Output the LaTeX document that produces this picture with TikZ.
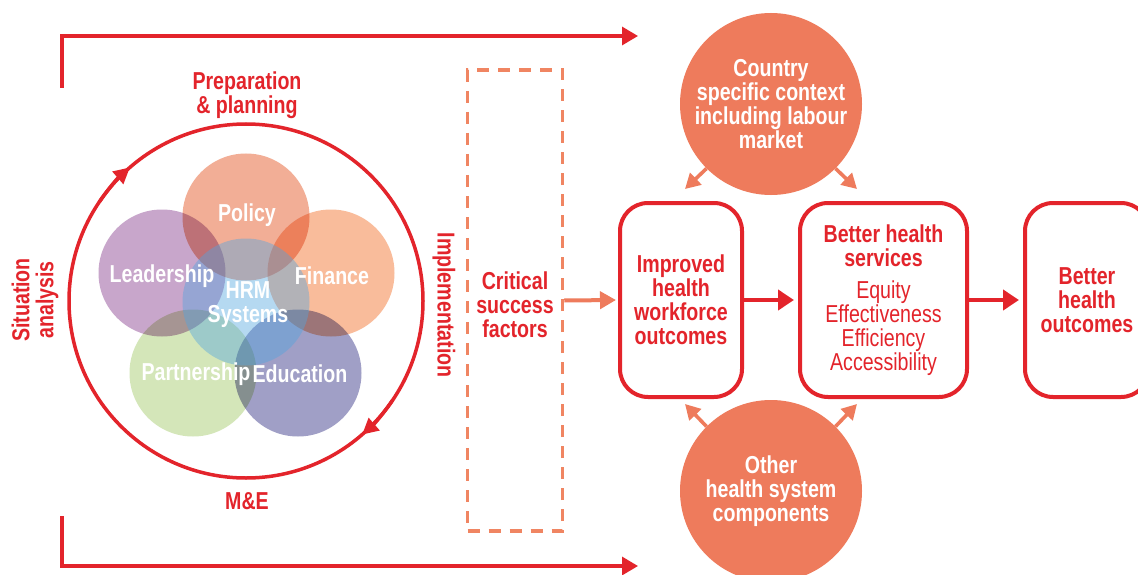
\documentclass[tikz,border=0pt]{standalone}
\usepackage{fontspec}
\setmainfont{Liberation Sans}[FakeStretch=0.8]
\usetikzlibrary{arrows.meta}
\definecolor{mainred}{HTML}{E3242B}
\definecolor{ctxorange}{HTML}{EE7B5C}
\definecolor{dashorange}{HTML}{F08562}
\definecolor{cpolicy}{HTML}{F2AE96}
\definecolor{clead}{HTML}{C8A6CB}
\definecolor{cfin}{HTML}{F9BC9B}
\definecolor{cpart}{HTML}{D4E6B9}
\definecolor{cedu}{HTML}{A09FC6}
\definecolor{chrm}{RGB}{81,165,224}
\newcommand\bigtxt{\fontsize{24.5}{24}\selectfont}
\begin{document}
\begin{tikzpicture}[x=1pt,y=-1pt,
  lbl/.style={font=\bigtxt\bfseries, align=center, text=mainred, inner sep=0pt},
  wlbl/.style={font=\bigtxt\bfseries, align=center, text=white, inner sep=0pt},
  petal/.style={circle, minimum size=127pt, inner sep=0pt},
  outbox/.style={draw=mainred, line width=4pt, rounded corners=28pt, minimum height=194pt, inner sep=0pt, align=center, font=\bigtxt, text=mainred},
  bracket/.style={draw=mainred, line width=3.3pt, -{Triangle[length=16pt,width=18pt]}},
  rarrow/.style={draw=mainred, line width=4.5pt, -{Triangle[length=16pt,width=20pt]}},
  oarrow/.style={draw=ctxorange, line width=4pt, -{Triangle[length=16pt,width=17pt]}},
  sarrow/.style={draw=ctxorange, line width=3.6pt, -{Triangle[length=15pt,width=16pt]}},
  looptip/.style={draw=mainred, line width=3.5pt, -{Triangle[length=16pt,width=16pt]}},
  ocircle/.style={circle, fill=ctxorange, minimum size=182pt, inner sep=0pt, align=center, font=\bigtxt\bfseries, text=white}
]
\useasboundingbox (0,0) rectangle (1138,575);
\fill[white] (0,0) rectangle (1138,575);

% brackets
\coordinate (tA) at (62,88);
\coordinate (tB) at (638,36);
\coordinate (bA) at (62,516);
\coordinate (bB) at (638,566);
\draw[bracket] (tA) |- (tB);
\draw[bracket] (bA) |- (bB);

% main loop circle
\node[circle, draw=mainred, line width=3.5pt, minimum size=354pt, inner sep=0pt] (loop) at (246,301) {};
\draw[looptip] (loop.center) ++(214:177) arc[start angle=214, end angle=229, radius=177];
\draw[looptip] (loop.center) ++(34:177) arc[start angle=34, end angle=49, radius=177];

% petals
\begin{scope}[blend group=multiply]
\node[petal, fill=cpolicy] (cpol) at (246,217) {};
\node[petal, fill=clead] (clea) at (162,273) {};
\node[petal, fill=cfin] (cfi) at (331,273) {};
\node[petal, fill=cpart] (cpa) at (193,373) {};
\node[petal, fill=cedu] (ced) at (298,373) {};
\end{scope}
\node[petal, fill=chrm, fill opacity=0.42] (chr) at (246,302) {};

\node[wlbl] (tpol) at (247,215) {Policy};
\node[wlbl] (tlea) at (162,276) {Leadership};
\node[wlbl] (tfi) at (332,276) {Finance};
\node[wlbl] (thr) at (248,305) {HRM\\Systems};
\node[wlbl] (tpa) at (196,374) {Partnership};
\node[wlbl] (ted) at (300,374) {Education};

% loop labels
\node[lbl] (prep) at (247,95) {Preparation\\\& planning};
\node[lbl] (me) at (247,501) {M\&E};
\node[lbl, rotate=90] (sit) at (35,300) {Situation\\analysis};
\node[lbl, rotate=-90] (impl) at (444,305) {Implementation};

% critical success factors
\node[draw=dashorange, dash pattern=on 12pt off 9pt, line width=3.5pt, minimum width=95pt, minimum height=461pt, inner sep=0pt] (csfbox) at (515,300.5) {};
\node[lbl] (csf) at (515,305) {Critical\\success\\factors};

% outcome boxes
\node[outbox, minimum width=122pt] (box1) at (681,300) {\bfseries Improved\\\bfseries health\\\bfseries workforce\\\bfseries outcomes};
\node[outbox, minimum width=167pt] (box2) at (883.5,300) {\bfseries Better health\\\bfseries services\\[8pt]Equity\\Effectiveness\\Efficiency\\Accessibility};
\node[outbox, minimum width=124pt] (box3) at (1087,300) {\bfseries Better\\\bfseries health\\\bfseries outcomes};

\draw[oarrow, shorten >=2pt] (csfbox.east) -- (box1.west);
\draw[rarrow, shorten >=4pt] (box1.east) -- (box2.west);
\draw[rarrow, shorten >=4pt] (box2.east) -- (box3.west);

% context circles
\node[ocircle] (ctx) at (771,104) {Country\\specific context\\including labour\\market};
\node[ocircle] (oth) at (771,491) {Other\\health system\\components};

\coordinate (ctxL) at (685,189);
\coordinate (ctxR) at (857,189);
\coordinate (othL) at (685,404);
\coordinate (othR) at (857,404);
\draw[sarrow] (ctx.225) -- (ctxL);
\draw[sarrow] (ctx.-45) -- (ctxR);
\draw[sarrow] (oth.135) -- (othL);
\draw[sarrow] (oth.45) -- (othR);
\end{tikzpicture}
\end{document}
